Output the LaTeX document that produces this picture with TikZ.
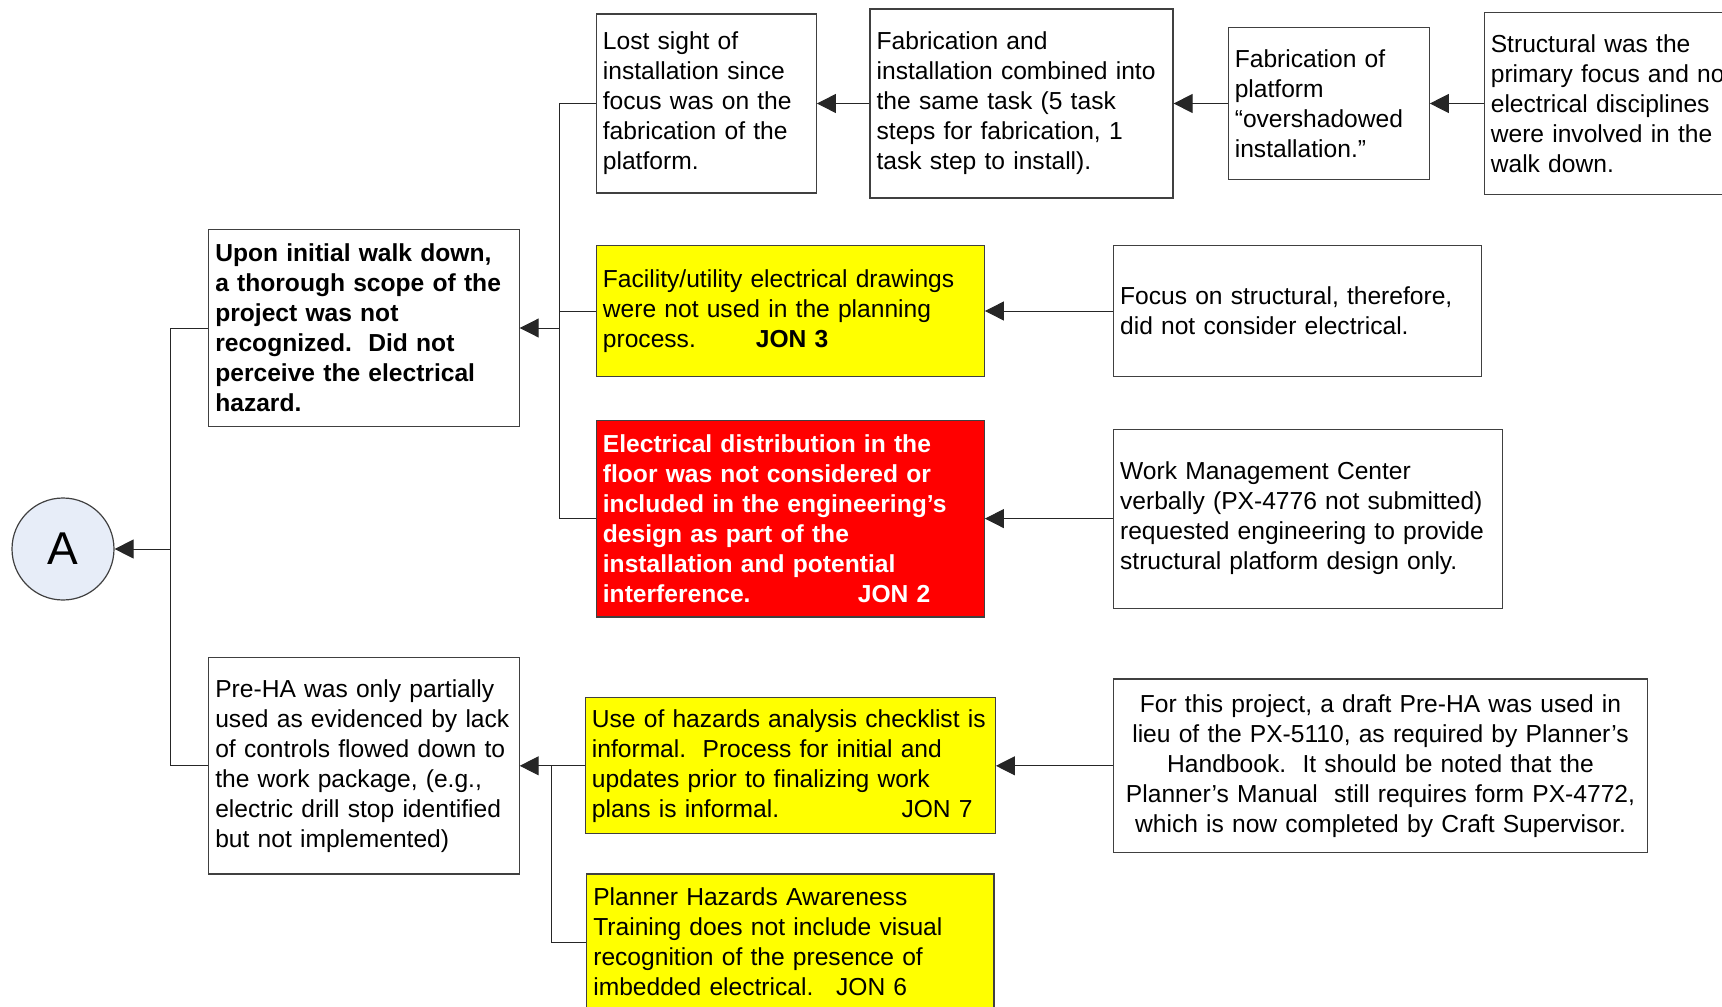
\documentclass[tikz,border=0pt]{standalone}
\usepackage{fontspec}
\setmainfont{Liberation Sans}
\usetikzlibrary{positioning,arrows.meta}
\frenchspacing
\definecolor{boxgray}{RGB}{64,64,64}
\definecolor{circfill}{RGB}{231,237,248}
\definecolor{jonyellow}{RGB}{255,255,0}
\definecolor{jonred}{RGB}{255,0,0}
\newcommand{\jonat}[2]{\makebox[#1][l]{#2}}
\tikzset{
  box/.style={draw=boxgray, line width=0.6pt, align=left, inner xsep=3.3pt, inner ysep=2pt,
    font=\fontsize{12.3}{15}\selectfont},
  boldbox/.style={box, font=\fontsize{12.3}{15}\selectfont\bfseries},
  yellowbox/.style={box, fill=jonyellow},
  redbox/.style={boldbox, fill=jonred, text=white},
  circ/.style={draw=boxgray, line width=0.6pt, fill=circfill, circle, minimum size=51pt,
    inner sep=0pt, font=\fontsize{23}{27}\selectfont},
  link/.style={draw=black!85, line width=0.5pt},
  tolink/.style={link, -{Triangle[length=9.5pt,width=9.5pt]}}
}

\begin{document}
\begin{tikzpicture}
      \useasboundingbox (0,0) rectangle (861pt,-503pt);
      \node [circ] (a) at (31.5pt,-274.5pt) {A};
      \node [boldbox, text width=148.6pt, minimum height=98.75pt, right=46.75pt of a, yshift=110.5pt] (b1)
        {Upon initial walk down,\\ a thorough scope of the\\ project was not\\ recognized.~ Did not\\ perceive the electrical\\ hazard.};
      \node [box, text width=148.6pt, minimum height=108.25pt, below=114.8pt of b1] (b2)
        {Pre-HA was only partially\\ used as evidenced by lack\\ of controls flowed down to\\ the work package, (e.g.,\\ electric drill stop identified\\ but not implemented)};
      \node [box, text width=103.4pt, minimum height=89.5pt, right=38pt of b1, yshift=112.25pt] (c1)
        {Lost sight of\\ installation since\\ focus was on the\\ fabrication of the\\ platform.};
      \node [yellowbox, text width=187.4pt, minimum height=65.3pt, right=38pt of b1, yshift=8.5pt] (c2)
        {Facility/utility electrical drawings\\ were not used in the planning\\ \jonat{76.5pt}{process.}\textbf{JON 3}};
      \node [redbox, text width=187.4pt, minimum height=98.3pt, below=21.4pt of c2] (c3)
        {Electrical distribution in the\\ floor was not considered or\\ included in the engineering’s\\ design as part of the\\ installation and potential\\ \jonat{127.5pt}{interference.}JON 2};
      \node [box, text width=144.9pt, minimum height=94.5pt, right=26.25pt of c1] (d1)
        {Fabrication and\\ installation combined into\\ the same task (5 task\\ steps for fabrication, 1\\ task step to install).};
      \node [box, text width=93.9pt, minimum height=75.75pt, right=27pt of d1] (e1)
        {Fabrication of\\ platform\\ “overshadowed\\ installation.”};
      \node [box, text width=133.4pt, minimum height=91.25pt, right=26.9pt of e1] (f1)
        {Structural was the\\ primary focus and no\\ electrical disciplines\\ were involved in the\\ walk down.};
      \node [box, text width=177.4pt, minimum height=65.3pt, right=64pt of c2] (d2)
        {Focus on structural, therefore,\\ did not consider electrical.};
      \node [box, text width=187.9pt, minimum height=89.5pt, right=64pt of c3] (d3)
        {Work Management Center\\ verbally (PX-4776 not submitted)\\ requested engineering to provide\\ structural platform design only.};
      \node [yellowbox, text width=198.4pt, minimum height=68pt, right=32.5pt of b2] (c4)
        {Use of hazards analysis checklist is\\ informal.~ Process for initial and\\ updates prior to finalizing work\\ \jonat{154.8pt}{plans is informal.}JON 7};
      \node [yellowbox, text width=197pt, minimum height=68pt, below=19.5pt of c4] (c5)
        {Planner Hazards Awareness\\ Training does not include visual\\ recognition of the presence of\\ \jonat{121.4pt}{imbedded electrical.}JON 6};
      \node [box, align=center, text width=260.4pt, minimum height=86.75pt, right=58.5pt of c4] (d4)
        {For this project, a draft Pre-HA was used in\\ lieu of the PX-5110, as required by Planner’s\\ Handbook.~ It should be noted that the\\ Planner’s Manual~ still requires form PX-4772,\\ which is now completed by Craft Supervisor.};
      \coordinate [right=28pt of a] (j0);
      \coordinate [right=20pt of b1] (j1);
      \coordinate [right=16pt of b2] (j2);
      \draw [tolink] (j0) -- (a);
      \draw [link] (b1) -| (j0);
      \draw [link] (b2) -| (j0);
      \draw [tolink] (j1) -- (b1);
      \draw [link] (c1) -| (j1);
      \draw [link] (c2) -| (j1);
      \draw [link] (c3) -| (j1);
      \draw [tolink] (d1) -- (c1);
      \draw [tolink] (e1) -- (d1);
      \draw [tolink] (f1) -- (e1);
      \draw [tolink] (d2) -- (c2);
      \draw [tolink] (d3) -- (c3);
      \draw [tolink] (j2) -- (b2);
      \draw [link] (c4) -| (j2);
      \draw [link] (c5) -| (j2);
      \draw [tolink] (d4) -- (c4);
\end{tikzpicture}
\end{document}
